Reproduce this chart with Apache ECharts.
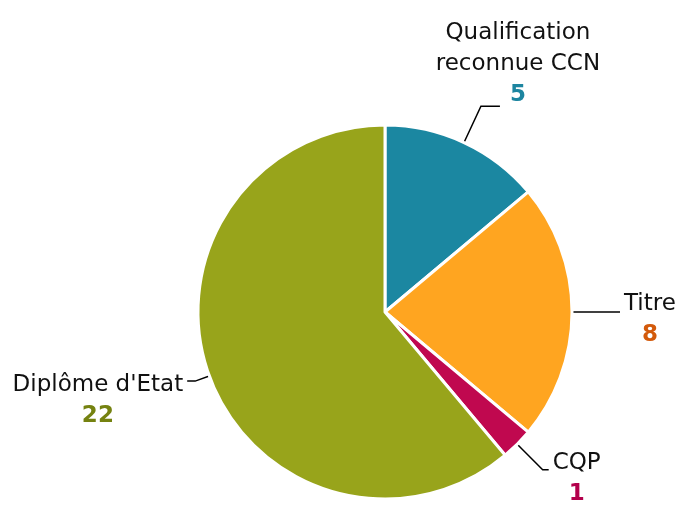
<!DOCTYPE html>
<html>
<head>
<meta charset="utf-8">
<script src="https://cdn.jsdelivr.net/npm/echarts@6/dist/echarts.min.js"></script>
<style>
html, body { margin: 0; padding: 0; background: #fff; }
#chart { width: 686px; height: 521px; }
</style>
</head>
<body>
<div id="chart"></div>
<script>
// donnees
var categories = ['Qualification\nreconnue CCN', 'Titre', 'CQP', "Diplôme d'Etat"];
var values = [5, 8, 1, 22];
var sliceColors = ['#1b87a1', '#ffa520', '#c0084f', '#98a41b'];
var valueColors = ['#1d85a0', '#d35a0b', '#b3004c', '#758210'];

// longueurs des traits de rappel (length, length2) et decalage vertical du texte
var lineLens = [[40, 19], [22, 26], [36, 6], [15, 8]];
var padTop = [0, 15, 17, 39];

let myChart = echarts.init(document.getElementById('chart'))

var data = categories.map(function (name, i) {
  var rich = {
    n: { fontSize: 23, lineHeight: 31, color: '#111', align: 'center', fontFamily: 'DejaVu Sans' },
    v: { fontSize: 23, lineHeight: 31, fontWeight: 'bold', color: valueColors[i], align: 'center', fontFamily: 'DejaVu Sans' }
  }
  return {
    name: name,
    value: values[i],
    itemStyle: { color: sliceColors[i] },
    labelLine: { length: lineLens[i][0], length2: lineLens[i][1] },
    label: {
      formatter: name.split('\n').map(function (s) { return '{n|' + s + '}' }).join('\n') + '\n{v|' + values[i] + '}',
      rich: rich,
      padding: [padTop[i], 0, 0, 0]
    }
  }
})

myChart.setOption({
  animation: false,
  series: [{
    type: 'pie',
    center: [385, 312],
    radius: 187,
    startAngle: 90,
    clockwise: true,
    avoidLabelOverlap: false,
    itemStyle: { borderColor: '#fff', borderWidth: 3 },
    label: { show: true, position: 'outside', distanceToLabelLine: 4 },
    labelLine: { show: true, lineStyle: { color: '#000', width: 1.5 } },
    labelLayout: function (params) {
      if (params.dataIndex !== 0) return {}
      var pts = params.labelLinePoints
      var end = pts[pts.length - 1]
      var r = params.labelRect
      return {
        dx: (end[0] + 18) - (r.x + r.width / 2),
        dy: end[1] - (r.y + r.height),
        labelLinePoints: pts
      }
    },
    data: data
  }]
})
</script>
</body>
</html>
